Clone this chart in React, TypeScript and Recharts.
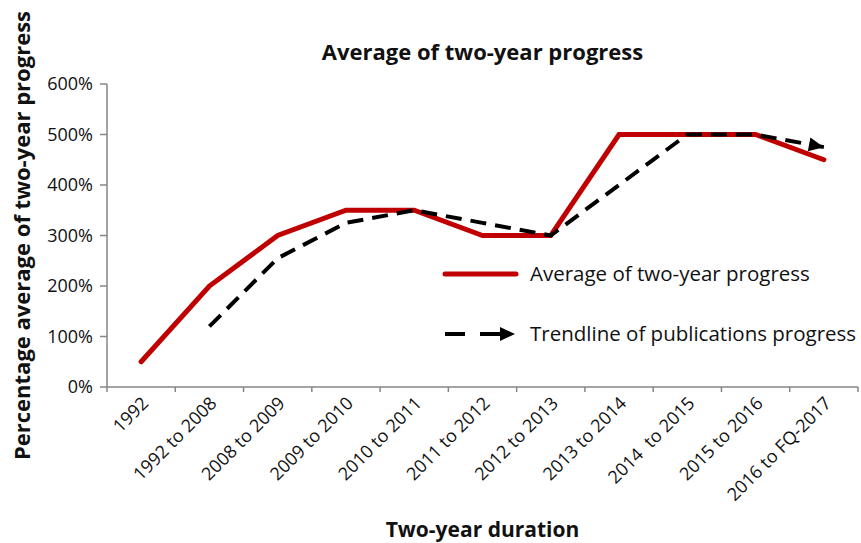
import { Label, Line, LineChart, XAxis, YAxis } from "recharts";

const periods = [
  "1992",
  "1992 to 2008",
  "2008 to 2009",
  "2009 to 2010",
  "2010 to 2011",
  "2011 to 2012",
  "2012 to 2013",
  "2013 to 2014",
  "2014  to 2015",
  "2015 to 2016",
  "2016 to FQ-2017",
];
const averageProgress = [50, 200, 300, 350, 350, 300, 300, 500, 500, 500, 450];
const trendline = [null, 120, 255, 325, 350, 325, 300, 400, 500, 500, 475];
const percentTicks = [0, 100, 200, 300, 400, 500, 600];

const data = periods.map((period, i) => ({
  period,
  avg: averageProgress[i],
  trend: trendline[i],
}));

const WIDTH = 861;
const HEIGHT = 543;
const Y_AXIS_W = 107;
const RIGHT = 3;
const BAND = (WIDTH - Y_AXIS_W - RIGHT) / periods.length;
const FONT = "'Open Sans', sans-serif";
const AXIS_GREY = "#868686";
const RED = "#C00000";

// Category labels sit under band centres; tick marks go on band edges.
function PeriodTick(props: any) {
  const { x, y, payload, index } = props;
  const tx = x + 4;
  const ty = y + 13;
  return (
    <g>
      <line x1={x - BAND / 2} x2={x - BAND / 2} y1={y} y2={y + 5} stroke={AXIS_GREY} strokeWidth={1.5} />
      {index === periods.length - 1 && (
        <line x1={x + BAND / 2} x2={x + BAND / 2} y1={y} y2={y + 5} stroke={AXIS_GREY} strokeWidth={1.5} />
      )}
      <text
        x={tx}
        y={ty}
        dy="0.35em"
        textAnchor="end"
        transform={`rotate(-45 ${tx} ${ty})`}
        fontSize={18}
        fontFamily={FONT}
        fill="#111"
        style={{ whiteSpace: "pre" }}
      >
        {payload.value}
      </text>
    </g>
  );
}

// Arrowhead at the final trendline point, aligned with the last segment.
function TrendArrow(props: any) {
  const { index, cx, cy, points } = props;
  if (index !== periods.length - 1 || cx == null || !points) return <g key={`d${index}`} />;
  const prev = points[index - 1];
  const angle = (Math.atan2(cy - prev.y, cx - prev.x) * 180) / Math.PI;
  return (
    <polygon
      key={`d${index}`}
      points="0,0 -15,-7 -15,7"
      fill="#000"
      transform={`translate(${cx} ${cy}) rotate(${angle})`}
    />
  );
}

function LegendBox() {
  const textStyle = { fontSize: 20.5, fontFamily: FONT, fill: "#111" };
  return (
    <svg width={421} height={100} style={{ position: "absolute", left: 440, top: 255 }}>
      <line x1={5} x2={76} y1={19} y2={19} stroke={RED} strokeWidth={5} strokeLinecap="round" />
      <text x={90} y={19} dy="0.35em" {...textStyle}>
        Average of two-year progress
      </text>
      <line x1={5} x2={25} y1={79} y2={79} stroke="#000" strokeWidth={4} />
      <line x1={40} x2={62} y1={79} y2={79} stroke="#000" strokeWidth={4} />
      <polygon points="75,79 60,72 60,86" fill="#000" />
      <text x={90} y={79} dy="0.35em" {...textStyle}>
        Trendline of publications progress
      </text>
    </svg>
  );
}

export default function App() {
  return (
    <div
      style={{
        position: "absolute",
        left: 0,
        top: 0,
        width: WIDTH,
        height: HEIGHT,
        background: "#fff",
        fontFamily: FONT,
      }}
    >
      <div
        style={{
          position: "absolute",
          left: Y_AXIS_W,
          width: WIDTH - Y_AXIS_W - RIGHT,
          top: 36,
          textAlign: "center",
          fontSize: 22,
          fontWeight: 700,
          color: "#111",
        }}
      >
        Average of two-year progress
      </div>
      <LineChart width={WIDTH} height={HEIGHT} data={data} margin={{ top: 84, right: RIGHT, bottom: 0, left: 0 }}>
        <XAxis
          dataKey="period"
          scale="band"
          height={HEIGHT - 387}
          interval={0}
          tickLine={false}
          tickSize={0}
          tickMargin={0}
          axisLine={{ stroke: AXIS_GREY, strokeWidth: 1.5 }}
          tick={<PeriodTick />}
        >
          <Label
            value="Two-year duration"
            position="insideBottom"
            offset={6}
            style={{ fontSize: 21, fontWeight: 700, fontFamily: FONT, fill: "#111" }}
          />
        </XAxis>
        <YAxis
          width={Y_AXIS_W}
          domain={[0, 600]}
          ticks={percentTicks}
          interval={0}
          tickFormatter={(v) => `${v}%`}
          tickSize={7}
          tickMargin={7}
          axisLine={{ stroke: AXIS_GREY, strokeWidth: 1.5 }}
          tickLine={{ stroke: AXIS_GREY, strokeWidth: 1.5 }}
          tick={{ fontSize: 18, fontFamily: FONT, fill: "#111" }}
        >
          <Label
            value="Percentage average of two-year progress"
            angle={-90}
            position="insideLeft"
            offset={22}
            style={{ fontSize: 22, fontWeight: 700, fontFamily: FONT, fill: "#111", textAnchor: "middle" }}
          />
        </YAxis>
        <Line
          type="linear"
          dataKey="avg"
          stroke={RED}
          strokeWidth={5}
          strokeLinecap="round"
          dot={false}
          activeDot={false}
          isAnimationActive={false}
        />
        <Line
          type="linear"
          dataKey="trend"
          stroke="#000"
          strokeWidth={4}
          strokeDasharray="16 9"
          dot={(p: any) => <TrendArrow {...p} />}
          activeDot={false}
          isAnimationActive={false}
        />
      </LineChart>
      <LegendBox />
    </div>
  );
}
